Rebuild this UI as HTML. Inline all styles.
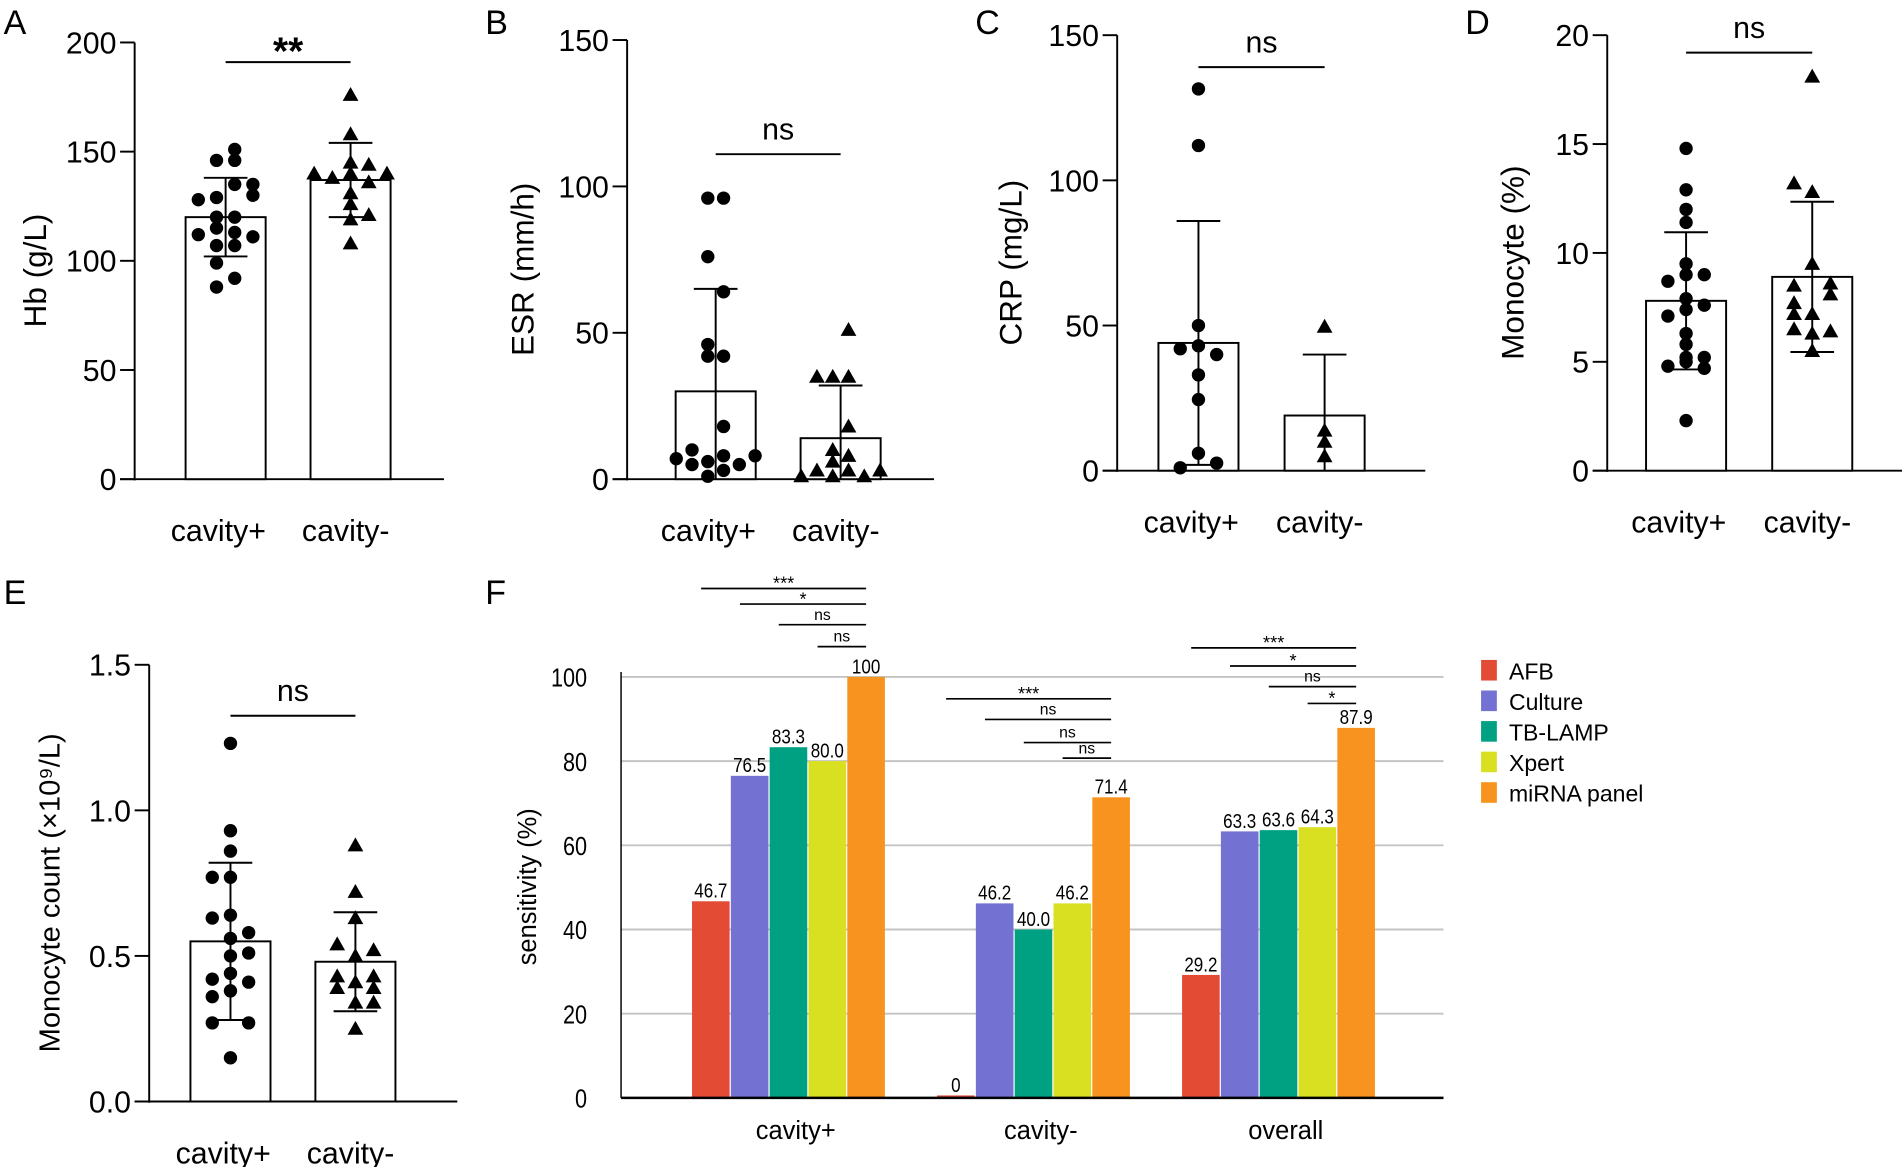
<!DOCTYPE html>
<html><head><meta charset="utf-8"><style>
html,body{margin:0;padding:0;background:#fff;}
svg{display:block;font-family:"Liberation Sans",Arial,sans-serif;}
</style></head><body>
<svg id="fig" width="1902" height="1167" viewBox="0 0 1568 962" preserveAspectRatio="none" xmlns="http://www.w3.org/2000/svg"></svg>
<script>
// ---------- Data: scatter panels ----------
const groupLabels = ["cavity+", "cavity-"];
const hbPlus = [151,146,146,135,135,130,128,129,120,120,115,112,113,111,107,107,99,92,88];
const hbPlusCol = [0.5,-0.5,0.5,0.5,1.5,1.5,-1.5,-0.5,-0.5,0.5,-0.5,-1.5,0.5,1.5,-0.5,0.5,-0.5,0.5,-0.5];
const hbMinus = [176,158,145,144,140,138,140,140,136,131,126,119,121,108];
const hbMinusCol = [0,0,0,1,-2,-1,0,2,1,0,0,0,1,0];
const hbMean = [120,137];
const hbSd = [18,17];
const hbTicks = [0,50,100,150,200];

const esrPlus = [96,96,76,64,46,42,42,18,10,7,8,5,6,8,5,1,3];
const esrPlusCol = [-0.5,0.5,-0.5,0.5,-0.5,-0.5,0.5,0.5,-1.5,-2.5,2.5,-1.5,-0.5,0.5,1.5,-0.5,0.5];
const esrMinus = [51,35,35,35,18,10,6,8,3,3,3,1,1,1];
const esrMinusCol = [0.5,-1.5,-0.5,0.5,0.5,-0.5,-0.5,0.5,-1.5,0.5,2.5,-2.5,-0.5,1.5];
const esrMean = [30,14];
const esrSd = [35,18];
const esrTicks = [0,50,100,150];

const crpPlus = [131.5,112,50,43,42,40,33,24.5,6,2.6,1];
const crpPlusCol = [0,0,0,0,-1,1,0,0,0,1,-1];
const crpMinus = [49.6,13.8,10,5];
const crpMinusCol = [0,0,0,0];
const crpMean = [44,19];
const crpSd = [42,21];
const crpTicks = [0,50,100,150];

const monoPlus = [14.8,12.9,12,11.4,9.5,8.7,9,9,7.9,7.4,7.6,7.1,6.3,5.8,5.2,5.2,4.8,5.0,4.7,2.3];
const monoPlusCol = [0,0,0,0,0,-1,0,1,0,0,1,-1,0,0,0,1,-1,0,1,0];
const monoMinus = [18.1,13.2,12.8,9.5,8.5,8.6,8.1,7.7,7.2,7.2,6.5,6.3,6.4,5.5];
const monoMinusCol = [0,-1,0,0,-1,1,1,-1,-1,0,-1,0,1,0];
const monoMean = [7.8,8.9];
const monoSd = [3.15,3.45];
const monoTicks = [0,5,10,15,20];

const cntPlus = [1.23,0.93,0.86,0.77,0.77,0.63,0.64,0.58,0.56,0.50,0.51,0.44,0.42,0.41,0.38,0.36,0.27,0.27,0.15];
const cntPlusCol = [0,0,0,-1,0,-1,0,1,0,0,1,0,-1,1,0,-1,-1,1,0];
const cntMinus = [0.88,0.72,0.63,0.54,0.52,0.50,0.43,0.41,0.43,0.39,0.39,0.34,0.34,0.25];
const cntMinusCol = [0,0,0,-1,1,0,-1,0,1,-1,1,0,1,0];
const cntMean = [0.55,0.48];
const cntSd = [0.27,0.17];
const cntTicks = [0.0,0.5,1.0,1.5];
const cntTickLabels = ["0.0","0.5","1.0","1.5"];

// ---------- Data: panel F ----------
const fGroups = ["cavity+","cavity-","overall"];
const fSeries = ["AFB","Culture","TB-LAMP","Xpert","miRNA panel"];
const fColors = ["#e34b35","#7371d1","#00a183","#d8e021","#f7931e"];
const afbVals = [46.7,0,29.2];
const cultureVals = [76.5,46.2,63.3];
const lampVals = [83.3,40.0,63.6];
const xpertVals = [80.0,46.2,64.3];
const mirnaVals = [100,71.4,87.9];
const afbLabels = ["46.7","0","29.2"];
const cultureLabels = ["76.5","46.2","63.3"];
const lampLabels = ["83.3","40.0","63.6"];
const xpertLabels = ["80.0","46.2","64.3"];
const mirnaLabels = ["100","71.4","87.9"];
const fTicks = [0,20,40,60,80,100];
const sigGroup = [0,0,0,0,1,1,1,1,2,2,2,2];
const sigFrom = [0,1,2,3,0,1,2,3,0,1,2,3];
const sigText = ["***","*","ns","ns","***","ns","ns","ns","***","*","ns","*"];
const sigLevel = [121,117.3,112.4,107.2,94.8,89.9,84.4,80.7,106.9,102.6,97.7,93.7];

// ---------- helpers ----------
const NS = "http://www.w3.org/2000/svg";
const svg = document.getElementById("fig");
function mk(tag, attrs, parent, text) {
  const e = document.createElementNS(NS, tag);
  for (const k in attrs) e.setAttribute(k, attrs[k]);
  if (text !== undefined) e.textContent = text;
  (parent || svg).appendChild(e);
  return e;
}

function scatterPanel(p) {
  const g = mk("g", {});
  
  
  const ys = v => p.y0 - (v - p.ticks[0]) / (p.ticks[p.ticks.length-1] - p.ticks[0]) * (p.y0 - p.yTop);
  const lbl = mk("text", {x:p.lx, y:p.ly, "font-size":28}, g, p.letter);
  
  
  const ax = mk("line", {x1:p.ax, y1:ys(p.ticks[p.ticks.length-1]), x2:p.ax, y2:p.y0+1, stroke:"#000","stroke-width":1.6}, g);
  
  
  const xa = mk("line", {x1:p.ax-12, y1:p.y0, x2:p.xEnd, y2:p.y0, stroke:"#000","stroke-width":1.6}, g);
  
  
  p.ticks.forEach((t,i) => {
    const y = ys(t);
    mk("line", {x1:p.ax-12, y1:y, x2:p.ax, y2:y, stroke:"#000","stroke-width":1.6}, g);
    const tl = mk("text", {x:p.ax-15, y:y+9, "font-size":25, "text-anchor":"end"}, g, p.tickLabels ? p.tickLabels[i] : String(t));
    
    
  });
  const yt = mk("text", {x:0, y:0, "font-size":p.ylFont || 26, "text-anchor":"middle", transform:`translate(${p.ylx},${(p.y0+p.yTop)/2+8}) rotate(-90)`}, g, p.ylabel);
  
  
  const series = [[p.plus,p.plusCol],[p.minus,p.minusCol]];
  p.centers.forEach((cx,gi) => {
    const top = ys(p.mean[gi]);
    const bar = mk("rect", {x:cx-33, y:top, width:66, height:p.y0-top, fill:"#fff", stroke:"#000","stroke-width":1.6}, g);
    
    
    const hi = p.mean[gi] + p.sd[gi], lo = p.mean[gi] - p.sd[gi];
    const yHi = ys(hi), yLo = lo > 0 ? ys(lo) : p.y0;
    const eb = mk("line", {x1:cx, y1:yHi, x2:cx, y2:yLo, stroke:"#000","stroke-width":1.6}, g);
    
    
    mk("line", {x1:cx-18, y1:yHi, x2:cx+18, y2:yHi, stroke:"#000","stroke-width":1.6}, g);
    if (lo > 0) mk("line", {x1:cx-18, y1:yLo, x2:cx+18, y2:yLo, stroke:"#000","stroke-width":1.6}, g);
    const [vals, cols] = series[gi];
    vals.forEach((v,i) => {
      const px = cx + cols[i]*p.sp, py = ys(v);
      let m;
      if (gi === 0) m = mk("circle", {cx:px, cy:py, r:5.5, fill:"#000"}, g);
      else m = mk("polygon", {points:`${px},${py-6.5} ${px-6.5},${py+5} ${px+6.5},${py+5}`, fill:"#000"}, g);
      
      
    });
    const xl = mk("text", {x:cx-6+gi*2, y:p.y0+51, "font-size":25, "text-anchor":"middle"}, g, groupLabels[gi]);
    
    
  });
  const sy = ys(p.sig);
  const sl = mk("line", {x1:p.centers[0], y1:sy, x2:p.centers[1], y2:sy, stroke:"#000","stroke-width":1.6}, g);
  
  
  const st = mk("text", {x:(p.centers[0]+p.centers[1])/2, y:sy-(p.sigText==="**"?-2:12), "font-size":p.sigText==="**"?32:25, "text-anchor":"middle", "font-weight":p.sigText==="**"?"bold":"normal"}, g, p.sigText);
  
  
}

scatterPanel({name:"panel-a-hb", letter:"A", lx:3, ly:28, ax:111, y0:395, yTop:35, xEnd:366, ticks:hbTicks, ylabel:"Hb (g/L)", ylx:38, centers:[186,289], plus:hbPlus, plusCol:hbPlusCol, minus:hbMinus, minusCol:hbMinusCol, mean:hbMean, sd:hbSd, sp:15, sig:191, sigText:"**"});
scatterPanel({name:"panel-b-esr", letter:"B", lx:400, ly:28, ax:517, y0:395, yTop:33, xEnd:770, ticks:esrTicks, ylabel:"ESR (mm/h)", ylx:440, centers:[590,693], plus:esrPlus, plusCol:esrPlusCol, minus:esrMinus, minusCol:esrMinusCol, mean:esrMean, sd:esrSd, sp:13, sig:111, sigText:"ns"});
scatterPanel({name:"panel-c-crp", letter:"C", lx:804, ly:28, ax:921, y0:388, yTop:29, xEnd:1175, ticks:crpTicks, ylabel:"CRP (mg/L)", ylx:842, centers:[988,1092], plus:crpPlus, plusCol:crpPlusCol, minus:crpMinus, minusCol:crpMinusCol, mean:crpMean, sd:crpSd, sp:15, sig:139, sigText:"ns"});
scatterPanel({name:"panel-d-monocyte-pct", letter:"D", lx:1208, ly:28, ax:1325, y0:388, yTop:29, xEnd:1578, ticks:monoTicks, ylabel:"Monocyte (%)", ylx:1256, centers:[1390,1494], plus:monoPlus, plusCol:monoPlusCol, minus:monoMinus, minusCol:monoMinusCol, mean:monoMean, sd:monoSd, sp:15, sig:19.2, sigText:"ns"});
scatterPanel({name:"panel-e-monocyte-count", letter:"E", lx:3, ly:498, ax:123, y0:908, yTop:548, xEnd:377, ticks:cntTicks, tickLabels:cntTickLabels, ylabel:"Monocyte count (×10⁹/L)", ylx:49, ylFont:24, centers:[190,293], plus:cntPlus, plusCol:cntPlusCol, minus:cntMinus, minusCol:cntMinusCol, mean:cntMean, sd:cntSd, sp:15, sig:1.325, sigText:"ns"});

// ---------- Panel F ----------
(function(){
  const g = mk("g", {});
  
  
  const ax = 512, y0 = 905, y100 = 558, xEnd = 1190;
  const ys = v => y0 - v/100*(y0-y100);
  const groupCenter = [650, 852, 1054];
  const bw = 32;
  const xs = (gi, si) => groupCenter[gi] + (si-2)*bw;
  const lbl = mk("text", {x:400, y:498, "font-size":28}, g, "F");
  
  
  fTicks.forEach(t => {
    const y = ys(t);
    if (t > 0) {
      const gl = mk("line", {x1:ax, y1:y, x2:xEnd, y2:y, stroke:"#c4c4c4","stroke-width":1.6}, g);
      
      
    }
    const tl = mk("text", {x:0, y:0, "font-size":21, "text-anchor":"end", transform:`translate(${ax-28},${y+8}) scale(0.85,1)`}, g, String(t));
    
    
  });
  const ya = mk("line", {x1:ax, y1:y100-4, x2:ax, y2:y0, stroke:"#000","stroke-width":1.2}, g);
  
  
  const yt = mk("text", {x:0, y:0, "font-size":21, "text-anchor":"middle", transform:`translate(442,731) rotate(-90)`}, g, "sensitivity (%)");
  
  
  const allVals = [afbVals, cultureVals, lampVals, xpertVals, mirnaVals];
  const allLabels = [afbLabels, cultureLabels, lampLabels, xpertLabels, mirnaLabels];
  fGroups.forEach((gn, gi) => {
    allVals.forEach((vals, si) => {
      const v = vals[gi];
      const top = Math.min(ys(v), y0-2);
      const x = xs(gi, si) - bw/2;
      const r = mk("rect", {x:x+0.5, y:top, width:bw-1, height:y0-top, fill:fColors[si]}, g);
      
      
      const t = mk("text", {x:0, y:0, "font-size":16.5, "text-anchor":"middle", transform:`translate(${xs(gi,si)},${top-3}) scale(0.85,1)`}, g, allLabels[si][gi]);
      
      
    });
    const xl = mk("text", {x:groupCenter[gi]+6, y:939, "font-size":21, "text-anchor":"middle"}, g, gn);
    
    
  });
  const xa = mk("line", {x1:ax, y1:y0, x2:xEnd, y2:y0, stroke:"#000","stroke-width":2}, g);
  
  
  sigText.forEach((s, i) => {
    const gi = sigGroup[i];
    const x1 = xs(gi, sigFrom[i]) - 8, x2 = xs(gi, 4);
    const y = ys(sigLevel[i]);
    const l = mk("line", {x1:x1, y1:y, x2:x2, y2:y, stroke:"#000","stroke-width":1.4}, g);
    
    
    const t = mk("text", {x:(x1+x2)/2, y:s==="ns"?y-4:y+1, "font-size":s==="ns"?13:15, "text-anchor":"middle"}, g, s);
    
    
  });
  fSeries.forEach((s, si) => {
    const y = 553 + si*25.2;
    const lg = mk("g", {}, g);
    
    
    mk("rect", {x:1221, y:y-9, width:13, height:17, fill:fColors[si]}, lg);
    mk("text", {x:1244, y:y+7, "font-size":19}, lg, s);
  });
})();
</script>
</body></html>
